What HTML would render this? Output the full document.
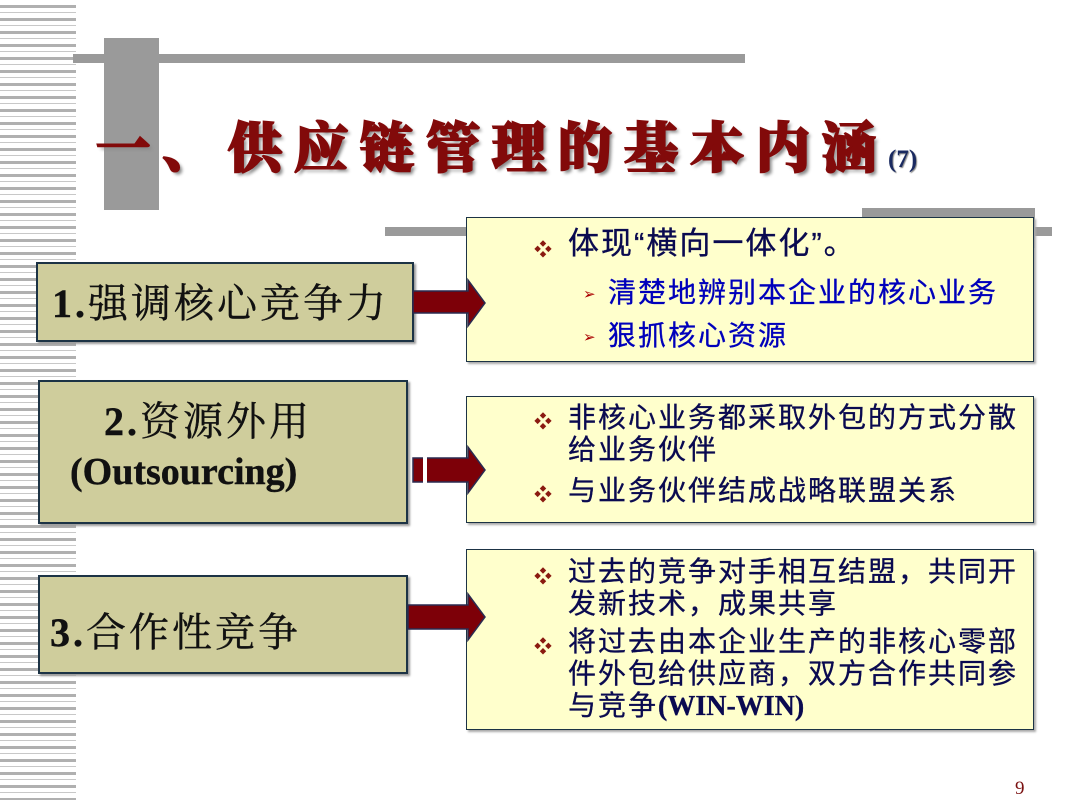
<!DOCTYPE html>
<html><head><meta charset="utf-8"><style>
body{margin:0;width:1080px;height:810px;background:#fff;position:relative;overflow:hidden;font-family:"Liberation Serif","Noto Serif CJK SC",serif}
.a{position:absolute}
.stripes{left:0;top:5px;width:76px;height:795px;background:repeating-linear-gradient(180deg,#b0b0b0 0 3px,#fff 3px 7px,#c8c8c8 7px 8px,#fff 8px 13px)}
.lb{position:absolute;background:#cfcd9c;border:2px solid #1c3345;box-shadow:2px 2px 2px #999}
.rb{position:absolute;background:#ffffcc;border:1.5px solid #1c3345;box-shadow:2px 2px 2px #aaa}
.lt{position:absolute;font-size:40px;letter-spacing:3px;color:#111;white-space:nowrap;-webkit-text-stroke:0.4px #111}
.t{position:absolute;font-family:"Liberation Sans","Noto Sans CJK SC",sans-serif;color:#0a0a50;font-size:28px;letter-spacing:2px;line-height:32px;white-space:nowrap;-webkit-text-stroke:0.3px #0a0a50}
.d{color:#8a1a10;font-size:18px;position:absolute}
.s{color:#0000bb;-webkit-text-stroke:0.3px #0000bb}
</style></head><body>
<div class="a stripes"></div>
<div class="a" style="left:73px;top:54px;width:672px;height:9px;background:#9a9a9a"></div>
<div class="a" style="left:104px;top:38px;width:55px;height:172px;background:#9a9a9a"></div>
<div class="a" style="left:385px;top:227px;width:667px;height:9px;background:#9a9a9a"></div>
<div class="a" style="left:862px;top:208px;width:173px;height:40px;background:#9a9a9a"></div>
<div class="a" style="left:96px;top:106px;font-size:54px;font-weight:900;color:#820a0a;letter-spacing:12px;white-space:nowrap;text-shadow:3px 3px 3px #888;-webkit-text-stroke:2px #820a0a;font-family:'Noto Serif CJK SC',serif">一、供应链管理的基本内涵<span style="font-family:'Liberation Serif',serif;font-size:25px;letter-spacing:0;color:#1a2a60;-webkit-text-stroke:0;text-shadow:1px 1px 1px #888">(7)</span></div>

<div class="lb" style="left:36px;top:262px;width:374px;height:76px"></div>
<div class="lt" style="left:52px;top:272px"><b>1.</b>强调核心竞争力</div>
<div class="lb" style="left:38px;top:380px;width:366px;height:140px"></div>
<div class="lt" style="left:104px;top:390px"><b>2.</b>资源外用</div>
<div class="lt" style="left:70px;top:450px;font-weight:bold;font-size:38px;letter-spacing:0">(Outsourcing)</div>
<div class="lb" style="left:38px;top:575px;width:366px;height:95px"></div>
<div class="lt" style="left:50px;top:601px"><b>3.</b>合作性竞争</div>

<div class="rb" style="left:466px;top:217px;width:566px;height:143px"></div>
<div class="rb" style="left:466px;top:396px;width:566px;height:125px"></div>
<div class="rb" style="left:466px;top:549px;width:566px;height:179px"></div>

<svg class="a" style="left:0;top:0" width="1080" height="810">
<g fill="#7d0008" stroke="#2a2a50" stroke-width="1.5">
<path d="M413 291H468V280L485 303L468 326V313H413Z"/>
<path d="M413 458H468V447L485 470L468 493V482H413Z"/>
<path d="M408 605H468V594L485 617L468 640V629H408Z"/>
</g>
<rect x="423" y="457" width="4" height="27" fill="#fff"/>
</svg>

<div class="d" style="left:534px;top:236px">❖</div>
<div class="t" style="left:568px;top:226px;font-size:31px;line-height:36px">体现“横向一体化”。</div>
<div class="d" style="left:583px;top:285px;color:#a00;font-size:15px">➢</div>
<div class="t s" style="left:608px;top:277px">清楚地辨别本企业的核心业务</div>
<div class="d" style="left:583px;top:328px;color:#a00;font-size:15px">➢</div>
<div class="t s" style="left:608px;top:320px">狠抓核心资源</div>

<div class="d" style="left:534px;top:408px">❖</div>
<div class="t" style="left:568px;top:402px">非核心业务都采取外包的方式分散<br>给业务伙伴</div>
<div class="d" style="left:534px;top:481px">❖</div>
<div class="t" style="left:568px;top:475px">与业务伙伴结成战略联盟关系</div>

<div class="d" style="left:534px;top:563px">❖</div>
<div class="t" style="left:568px;top:556px">过去的竞争对手相互结盟，共同开<br>发新技术，成果共享</div>
<div class="d" style="left:534px;top:633px">❖</div>
<div class="t" style="left:568px;top:626px">将过去由本企业生产的非核心零部<br>件外包给供应商，双方合作共同参<br>与竞争<b style="font-family:'Liberation Serif',serif;letter-spacing:0">(WIN-WIN)</b></div>

<div class="a" style="left:1015px;top:778px;font-size:19px;color:#7a1010">9</div>
</body></html>
